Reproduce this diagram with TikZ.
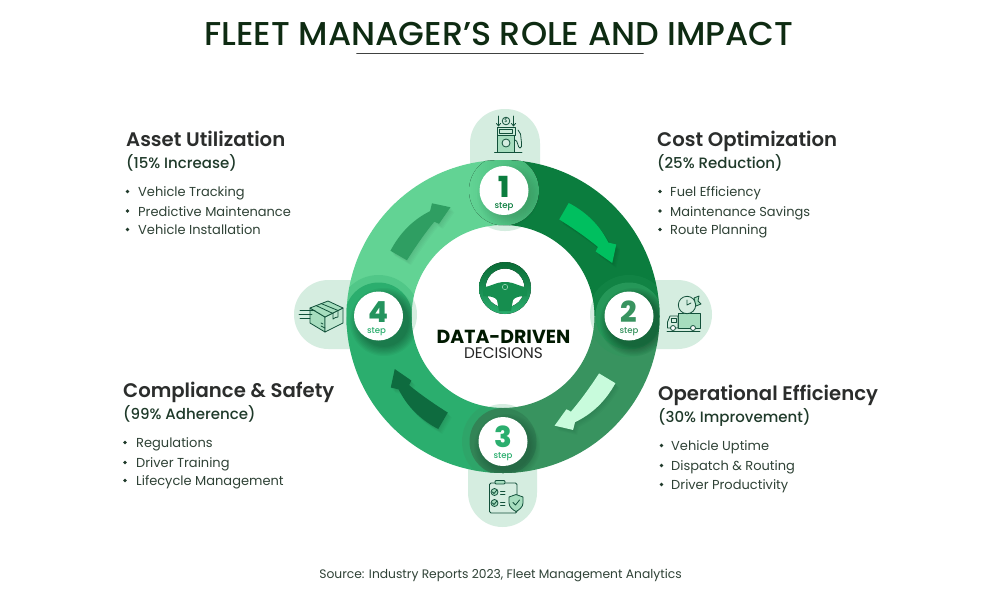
\documentclass[tikz,border=0pt]{standalone}
\usepackage{fontspec}
\usetikzlibrary{calc}
\setmainfont{Poppins}
\newfontfamily\fsemi{Poppins SemiBold}
\newfontfamily\fmed{Poppins Medium}
\newfontfamily\fbold{Poppins Bold}
\newfontfamily\fxb{Poppins ExtraBold}
\definecolor{qa}{HTML}{0B7D3E}
\definecolor{qb}{HTML}{38935F}
\definecolor{qc}{HTML}{2BAE6E}
\definecolor{qd}{HTML}{62D394}
\definecolor{arra}{HTML}{00BF5F}
\definecolor{arrb}{HTML}{C8FBDC}
\definecolor{arrc}{HTML}{0E6B3F}
\definecolor{arrd}{HTML}{2F9E62}
\definecolor{lobe}{HTML}{D5EDE0}
\definecolor{ink}{HTML}{12503A}
\definecolor{tint}{HTML}{A6DDBE}
\definecolor{headc}{HTML}{2B2D2C}
\definecolor{subc}{HTML}{1F3A2A}
\definecolor{bodyc}{HTML}{2F4236}
\definecolor{titlec}{HTML}{0E2B12}
\tikzset{
  headtxt/.style={anchor=base west,inner sep=0,text=headc,font=\fsemi\fontsize{19.65}{21}\selectfont},
  subtxt/.style={anchor=base west,inner sep=0,text=subc,font=\fmed\fontsize{15}{17}\selectfont},
  bodytxt/.style={anchor=base west,inner sep=0,text=bodyc,font=\fontsize{13}{15}\selectfont},
  dot/.style={fill=subc},
  lobeshape/.style={fill=lobe,rounded corners=34.5pt},
  digit/.style={inner sep=0,anchor=base,font=\fxb\fontsize{29}{29}\selectfont},
  steptxt/.style={inner sep=0,anchor=base,font=\fmed\fontsize{8.6}{10}\selectfont},
  icon/.style={draw=ink,line width=0.8pt,line join=round,line cap=round},
  disc/.style={circle,fill=white,minimum size=49pt,inner sep=0},
}
\newcommand{\sect}[3]{\fill[#1] ($(503,-316.5)+(#2:156.5)$) arc (#2:#3:156.5) -- ($(503,-316.5)+(#3:91.5)$) arc (#3:#2:91.5) -- cycle;}
\newcommand{\arrowshape}{(60:130.5) .. controls (51:133) and (43:132) .. (35:128) -- (32.4:133.5) -- (26:121) -- (35:112.5) -- (36.2:117) .. controls (43:114.5) and (52:112) .. (60:111.5) -- cycle}
\newcommand{\bandarrow}[2]{%
  \begin{scope}[shift={(503.5,-316)},rotate=#1]
    \foreach \k in {1,...,5}{\begin{scope}[rotate=-#1,shift={(\k*0.8,-\k*1)},rotate=#1]\fill[black,opacity=.02] \arrowshape;\end{scope}}
    \fill[#2] \arrowshape;
  \end{scope}}
\newcommand{\softshadow}[4]{%
  \foreach \k in {0,...,7}{\fill[black,opacity=#4] (#1,#2) circle ({#3-\k*1.3});}}
\newcommand{\bul}[2]{\fill[dot] (#1,#2) circle (1.8);}
\begin{document}
\begin{tikzpicture}[x=1pt,y=1pt]
\useasboundingbox (0,-600) rectangle (1000,0);
\fill[white] (0,-600) rectangle (1000,0);

% title
\node[inner sep=0,anchor=base,text=titlec] (title) at (499,-45.5) {\scalebox{1.01}[1]{\fmed\fontsize{33}{36}\selectfont FLEET MANAGER’S ROLE AND IMPACT}};
\coordinate (ula) at (357,-53.5);
\coordinate (ulb) at (643,-53.5);
\draw[line width=1.8pt,color=headc!90,line cap=round] (ula) -- (ulb);

% lobes
\fill[lobeshape] (470,-231) rectangle (540,-109);
\fill[lobeshape] (590,-349) rectangle (712,-280);
\fill[lobeshape] (468,-527) rectangle (537,-404);
\fill[lobeshape] (294,-349) rectangle (417,-280);

% ring
\sect{qa}{90}{0}
\sect{qb}{0}{-90}
\sect{qc}{-90}{-180}
\sect{qd}{180}{90}

% halos, confined to the ring
\begin{scope}[even odd rule]
  \clip (503,-316.5) circle (156.5) (503,-316.5) circle (91.5);
  \begin{scope}[nonzero rule]
  \fill[qa!70!qd,opacity=.25] (629,-316) circle (41);
  \fill[qb,opacity=.3] (503,-441.5) circle (41);
  \fill[qc,opacity=.3] (378.5,-316) circle (41);
  \fill[left color=qd,right color=qd!60!qa] (504,-190.5) circle (35);
  \fill[color=qa!70!qd] (629,-316) circle (33.5);
  \fill[color=qb!90!black] (503,-441.5) circle (33.5);
  \fill[color=qc] (378.5,-316) circle (33.5);
  \softshadow{508}{-195}{31}{.012}
  \softshadow{634}{-322}{34}{.042}
  \softshadow{507}{-447}{33}{.024}
  \softshadow{384}{-322}{34}{.04}
  \end{scope}
\end{scope}

% band arrows
\bandarrow{0}{arra}
\bandarrow{-91}{arrb}
\bandarrow{180}{arrc}
\bandarrow{90}{arrd}

% step discs
\node[disc] (d1) at (504,-190.5) {};
\node[disc] (d2) at (629,-316) {};
\node[disc] (d3) at (503,-441.5) {};
\node[disc] (d4) at (378.5,-316) {};
\node[digit,text=qa] (n1) at (504,-197.5) {1};
\node[digit,text=qb] (n2) at (629,-322.5) {2};
\node[digit,text=qc] (n3) at (503,-447.5) {3};
\node[digit,text=qc!85!black] (n4) at (378.5,-322.5) {4};
\node[steptxt,text=qa] (s1) at (504,-208) {step};
\node[steptxt,text=qb] (s2) at (629,-333) {step};
\node[steptxt,text=qc] (s3) at (503,-458) {step};
\node[steptxt,text=qc] (s4) at (376.5,-333) {step};

% steering wheel
\fill[even odd rule,top color=qa!85!black,bottom color=qc] (505,-288) circle (26) (505,-288) circle (19.5);
\fill[qa!65!qc] (483,-287) .. controls (491,-287) and (495,-282) .. (505,-282) .. controls (515,-282) and (519,-287) .. (527,-287) -- (527,-296) .. controls (520,-296) and (515,-297) .. (513,-300) -- (511,-311) -- (499,-311) -- (497,-300) .. controls (495,-297) and (490,-296) .. (483,-296) -- cycle;
\draw[tint,line width=0.5pt] (505,-287) circle (2.7);

% centre text
\node[inner sep=0,anchor=base,text=black!90!green,font=\fbold\fontsize{18.9}{20}\selectfont] (dd) at (503.5,-343) {DATA-DRIVEN};
\node[inner sep=0,anchor=base,text=black!85,font=\fontsize{15.3}{17}\selectfont] (dec) at (503.5,-358.5) {DECISIONS};

% fuel pump icon
\begin{scope}[icon]
  \filldraw[fill=tint] (497.5,-152) rectangle (514.5,-128);
  \filldraw[fill=tint!60] (497,-135) rectangle (515,-127.5);
  \draw (499.5,-129.5) rectangle (512.5,-133);
  \filldraw[fill=lobe] (506,-143) circle (4);
  \draw (494.5,-152.5) -- (522,-152.5);
  \draw (506,-121) circle (3.8);
  \draw (498.5,-116) -- (498.5,-126) (496.5,-123.5) -- (498.5,-126) -- (500.5,-123.5);
  \draw (513.5,-116) -- (513.5,-126) (511.5,-123.5) -- (513.5,-126) -- (515.5,-123.5);
  \draw (515,-140) .. controls (518,-140) and (517.5,-148) .. (520,-148) .. controls (523,-148) and (521,-140) .. (520.5,-134) -- (518,-130);
\end{scope}
\node[inner sep=0,text=ink,font=\fontsize{5.5}{6}\selectfont] (dollar) at (506,-121) {\$};

% truck icon
\begin{scope}[icon]
  \filldraw[fill=tint] (678,-313) -- (700,-313) -- (700,-328) -- (678,-328) -- cycle;
  \filldraw[fill=lobe] (678,-316) -- (670,-316) -- (667.5,-322) -- (667.5,-328) -- (678,-328) -- cycle;
  \draw (671,-318) rectangle (676,-322);
  \filldraw[fill=lobe] (687,-305) circle (8.7);
  \draw (687,-300) -- (687,-305) -- (691,-303);
  \draw[fill=tint] (694,-298) -- (699,-296) -- (698,-301) -- (701,-304) -- (696,-306) -- cycle;
  \filldraw[fill=white] (673,-328) circle (2.5);
  \filldraw[fill=white] (693,-328) circle (2.5);
  \draw (667,-331) -- (700,-331);
\end{scope}

% clipboard icon
\begin{scope}[icon]
  \filldraw[fill=lobe,rounded corners=1.5pt] (489.5,-483) rectangle (517,-513);
  \filldraw[fill=tint,rounded corners=1pt] (495,-484) rectangle (505,-480.5);
  \draw[fill=tint] (494.5,-492) circle (3.5);
  \draw[fill=tint] (494.5,-503) circle (3.5);
  \draw (492.5,-492) -- (494,-493.5) -- (496.5,-490.5);
  \draw (492.5,-503) -- (494,-504.5) -- (496.5,-501.5);
  \draw (500.5,-491) -- (505,-491) (500.5,-494) -- (505,-494);
  \draw (500.5,-502) -- (505,-502) (500.5,-505) -- (505,-505);
  \filldraw[fill=tint] (516,-494.5) -- (523,-497) -- (523,-503) .. controls (523,-507) and (519,-510) .. (516,-511.5) .. controls (513,-510) and (509,-507) .. (509,-503) -- (509,-497) -- cycle;
  \draw (513,-502.5) -- (515.5,-505) -- (519.5,-500);
\end{scope}

% box icon
\begin{scope}[icon]
  \filldraw[fill=tint] (310,-308) -- (325,-317) -- (325,-332) -- (310,-323) -- cycle;
  \filldraw[fill=tint!70] (325,-317) -- (343,-308) -- (343,-323) -- (325,-332) -- cycle;
  \filldraw[fill=tint] (310,-308) -- (328,-301) -- (343,-308) -- (325,-317) -- cycle;
  \draw (316,-305.5) -- (333,-313.5) (321,-303.5) -- (338,-310.5);
  \draw (333,-313.5) -- (333,-319) -- (335.5,-317.5) -- (338,-317) -- (338,-310.5);
  \draw (300,-310) -- (315,-310) (299,-314) -- (312,-314) (300,-318) -- (310,-318);
  \draw (321,-326) -- (325,-328) (321,-323) -- (323,-324);
\end{scope}

% text blocks
\node[headtxt] (h1) at (126,-146) {Asset Utilization};
\node[subtxt] (u1) at (126,-168) {(15\% Increase)};
\node[bodytxt] (a1) at (138,-196) {Vehicle Tracking};
\node[bodytxt] (a2) at (138,-216) {Predictive Maintenance};
\node[bodytxt] (a3) at (138,-234) {Vehicle Installation};
\bul{127.5}{-191.5}\bul{127.5}{-211}\bul{127.5}{-229.5}

\node[headtxt] (h2) at (657,-146) {Cost Optimization};
\node[subtxt] (u2) at (657,-168) {(25\% Reduction)};
\node[bodytxt] (b1) at (670,-196) {Fuel Efficiency};
\node[bodytxt] (b2) at (670,-216) {Maintenance Savings};
\node[bodytxt] (b3) at (670,-234) {Route Planning};
\bul{660}{-191.5}\bul{660}{-211}\bul{660}{-229.5}

\node[headtxt] (h3) at (658,-400) {Operational Efficiency};
\node[subtxt] (u3) at (658,-422) {(30\% Improvement)};
\node[bodytxt] (c1) at (671,-450) {Vehicle Uptime};
\node[bodytxt] (c2) at (671,-470) {Dispatch \& Routing};
\node[bodytxt] (c3) at (671,-489) {Driver Productivity};
\bul{661.5}{-445.5}\bul{661.5}{-465.5}\bul{661.5}{-484.5}

\node[headtxt] (h4) at (123,-397) {Compliance \& Safety};
\node[subtxt] (u4) at (123,-419) {(99\% Adherence)};
\node[bodytxt] (e1) at (136,-447) {Regulations};
\node[bodytxt] (e2) at (136,-467) {Driver Training};
\node[bodytxt] (e3) at (136,-485) {Lifecycle Management};
\bul{125}{-442.5}\bul{125}{-462.5}\bul{125}{-480.5}

\node[inner sep=0,anchor=base,text=bodyc,font=\fontsize{12.3}{14}\selectfont] (src) at (500.5,-578.5) {Source: Industry Reports 2023, Fleet Management Analytics};
\end{tikzpicture}
\end{document}
